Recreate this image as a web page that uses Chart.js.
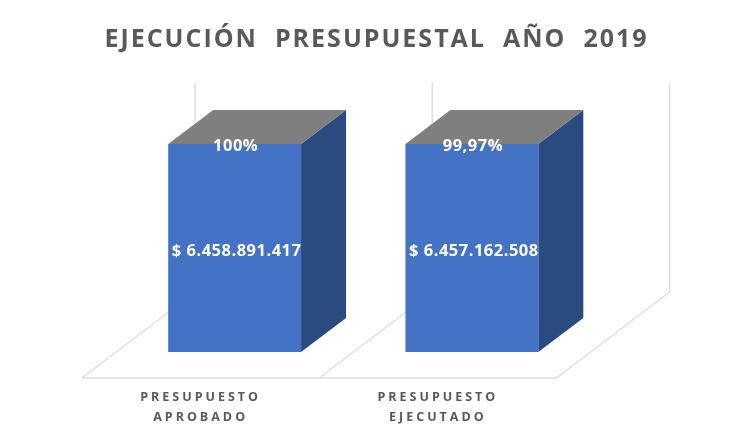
<!DOCTYPE html>
<html>
<head>
<meta charset="utf-8">
<script src="https://cdn.jsdelivr.net/npm/chart.js@4"></script>
<style>
  html, body { margin: 0; padding: 0; background: #fff; }
  canvas { display: block; }
</style>
</head>
<body>
<canvas id="myChart" width="729" height="435"></canvas>
<script>
const categories = [['PRESUPUESTO', 'APROBADO'], ['PRESUPUESTO', 'EJECUTADO']];
const budgetValues = [6458891417, 6457162508];
const percentLabels = ['100%', '99,97%'];

// 3d look: how far the faces sit from the front plane of the bars
const barDepth = { x: 45, y: -34 };
const floorFront = { x: -34, y: 26 };
const floorBack = { x: 79, y: -60 };
const gridColor = '#dedede';

function money(v) {
    return '$ ' + String(v).replace(/\B(?=(\d{3})+$)/g, '.');
}

function line(ctx, x1, y1, x2, y2) {
    ctx.beginPath();
    ctx.moveTo(x1, y1);
    ctx.lineTo(x2, y2);
    ctx.stroke();
}

function face(ctx, color, pts) {
    ctx.fillStyle = color;
    ctx.beginPath();
    pts.forEach((p, i) => i ? ctx.lineTo(p[0], p[1]) : ctx.moveTo(p[0], p[1]));
    ctx.closePath();
    ctx.fill();
}

const bars3d = {
    id: 'bars3d',
    afterLayout(chart) {
        // the padding below would squeeze the title, and it sits right of the canvas middle
        const title = chart.titleBlock;
        title.left = 24;
        title.right = chart.width;
        // title has tighter spacing than the tick labels
        const drawTitle = title.draw.bind(title);
        title.draw = () => {
            chart.ctx.save();
            chart.ctx.letterSpacing = '2px';
            drawTitle();
            chart.ctx.restore();
        };
    },
    beforeDraw(chart) {
        chart.ctx.letterSpacing = '3px';
    },
    beforeDatasetsDraw(chart) {
        const ctx = chart.ctx;
        const { x, y } = chart.scales;
        const step = (x.right - x.left) / categories.length;
        const base = y.getPixelForValue(0);
        ctx.save();
        ctx.strokeStyle = gridColor;
        ctx.lineWidth = 1.5;
        line(ctx, x.left + floorFront.x, base + floorFront.y, x.right + floorFront.x, base + floorFront.y);
        for (let i = 0; i <= categories.length; i++) {
            const px = x.left + i * step;
            line(ctx, px + floorFront.x, base + floorFront.y, px + floorBack.x, base + floorBack.y);
            line(ctx, px + floorBack.x, base + floorBack.y, px + floorBack.x, y.top + floorBack.y);
        }
        chart.getDatasetMeta(0).data.forEach(bar => {
            const r = bar.x + bar.width / 2;
            const l = bar.x - bar.width / 2;
            face(ctx, '#2a4a80', [[r, bar.y], [r + barDepth.x, bar.y + barDepth.y], [r + barDepth.x, bar.base + barDepth.y], [r, bar.base]]);
            face(ctx, '#7f7f7f', [[l, bar.y], [l + barDepth.x, bar.y + barDepth.y], [r + barDepth.x, bar.y + barDepth.y], [r, bar.y]]);
        });
        ctx.restore();
    },
    afterDatasetsDraw(chart) {
        const ctx = chart.ctx;
        ctx.save();
        ctx.letterSpacing = '0.5px';
        ctx.fillStyle = '#fff';
        ctx.font = 'bold 16.5px "Open Sans"';
        ctx.textAlign = 'center';
        ctx.textBaseline = 'middle';
        chart.getDatasetMeta(0).data.forEach((bar, i) => {
            ctx.fillText(money(budgetValues[i]), bar.x + 2, (bar.y + bar.base) / 2 + 3);
            ctx.fillText(percentLabels[i], bar.x + 1, bar.y + 2);
        });
        ctx.restore();
    }
};

new Chart(document.getElementById('myChart'), {
    type: 'bar',
    data: {
        labels: categories,
        datasets: [{
            data: budgetValues,
            backgroundColor: '#4472c4',
            barPercentage: 0.56,
            categoryPercentage: 1
        }]
    },
    options: {
        responsive: false,
        animation: false,
        layout: { padding: { left: 116, right: 138.5, top: 0, bottom: 0 } },
        plugins: {
            legend: { display: false },
            tooltip: { enabled: false },
            title: {
                display: true,
                text: 'EJECUCIÓN  PRESUPUESTAL  AÑO  2019',
                color: '#595959',
                font: { family: '"Open Sans"', size: 25, weight: 'bold', lineHeight: 1.2 },
                padding: { top: 25, bottom: 87.7 }
            }
        },
        scales: {
            x: {
                grid: { display: false },
                border: { display: false },
                afterFit(scale) { scale.height = 83; },
                ticks: {
                    color: '#595959',
                    font: { family: '"Open Sans"', size: 12.5, weight: 'bold', lineHeight: 1.6 },
                    padding: 27,
                    labelOffset: floorFront.x,
                    maxRotation: 0,
                    autoSkip: false
                }
            },
            y: {
                display: false,
                min: 0,
                max: 6500000000
            }
        }
    },
    plugins: [bars3d]
});
</script>
</body>
</html>
